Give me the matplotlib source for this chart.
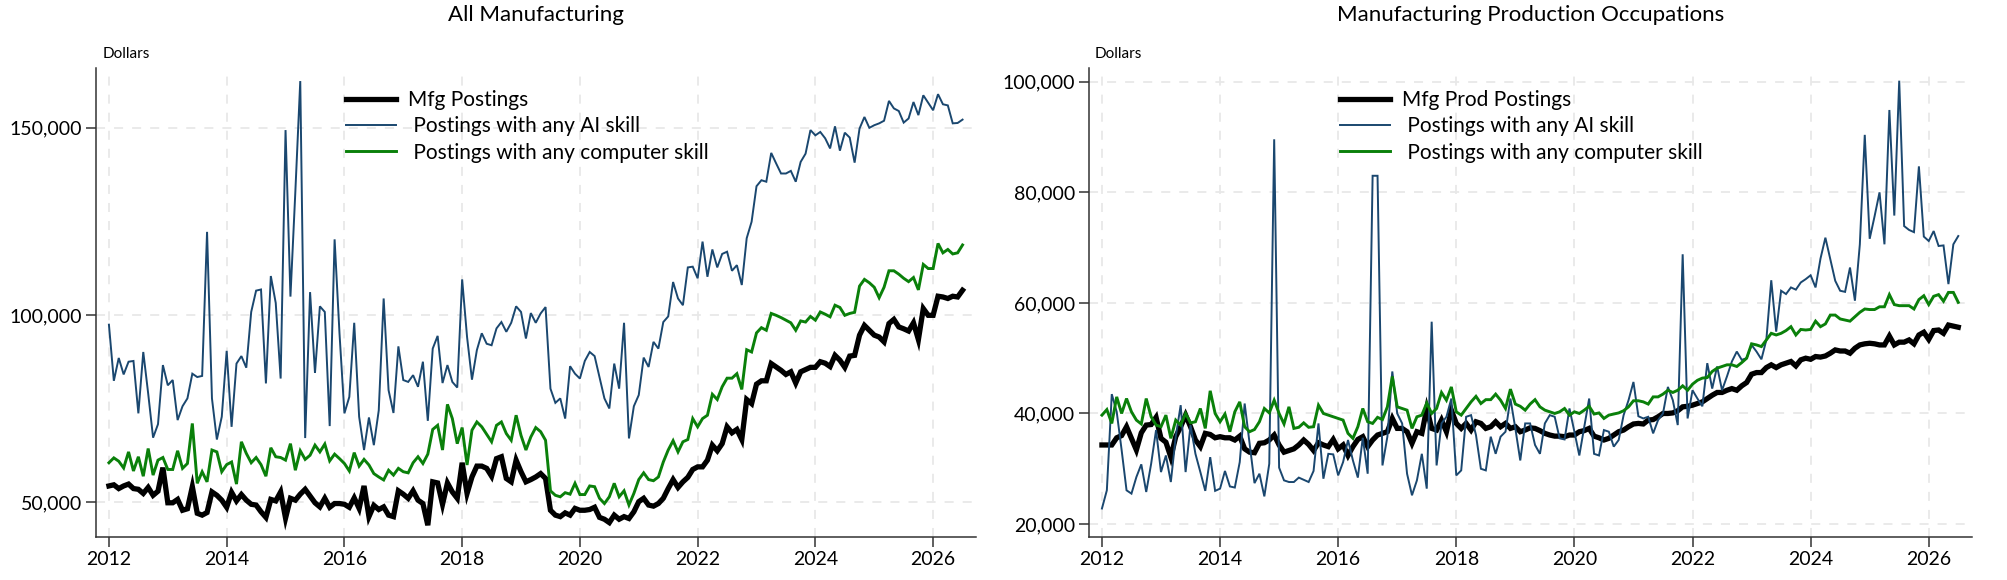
import numpy as np
import matplotlib.pyplot as plt
from matplotlib.ticker import FuncFormatter

plt.rcParams['font.family'] = ['Lato', 'DejaVu Sans']

# monthly data, Jan 2012 .. Jul 2026, thousands of dollars
months = np.arange(175)
years = 2012 + months / 12.0

# All manufacturing
mfg_all = [
    54.3, 54.6, 53.6, 54.3, 54.8, 53.6, 53.4, 52.3, 53.9, 51.8,
    52.9, 59.2, 49.8, 49.8, 50.7, 47.8, 48.2, 54.1, 47.0, 46.5,
    47.2, 52.7, 51.8, 50.5, 48.6, 52.6, 50.3, 52.0, 50.5, 49.4,
    49.2, 47.4, 45.9, 50.7, 50.3, 52.7, 45.7, 51.0, 50.5, 52.1,
    53.4, 51.6, 49.8, 48.7, 51.0, 48.6, 49.6, 49.6, 49.4, 48.6,
    51.1, 48.3, 54.3, 46.1, 49.1, 48.0, 48.7, 46.5, 46.1, 53.0,
    52.1, 51.0, 53.0, 50.5, 49.6, 43.8, 55.4, 55.1, 49.4, 55.1,
    52.7, 51.0, 60.5, 52.3, 56.7, 59.6, 59.6, 59.0, 56.9, 61.6,
    62.1, 56.3, 55.4, 61.2, 58.1, 55.4, 56.0, 56.7, 57.6, 56.3,
    47.8, 46.5, 46.1, 47.1, 46.5, 48.3, 47.8, 47.8, 48.0, 48.6,
    45.9, 45.4, 44.5, 46.5, 45.4, 46.1, 45.6, 47.4, 50.1, 51.0,
    49.2, 48.9, 49.6, 51.0, 53.6, 56.0, 53.9, 55.4, 56.6, 58.7,
    59.4, 59.4, 61.2, 65.2, 63.7, 65.6, 70.1, 68.5, 69.4, 66.7,
    77.4, 76.3, 81.5, 82.4, 82.4, 87.0, 86.1, 85.2, 84.1, 84.8,
    81.8, 84.8, 85.4, 86.0, 86.0, 87.5, 87.1, 86.2, 89.2, 87.9,
    86.0, 89.0, 89.2, 94.6, 97.2, 95.9, 94.6, 94.1, 92.8, 97.7,
    98.8, 96.8, 96.3, 95.7, 97.9, 93.4, 101.7, 99.9, 99.9, 105.0,
    104.8, 104.4, 105.0, 104.8, 106.6]

ai_all = [
    97.4, 82.4, 88.5, 84.1, 87.5, 87.7, 73.7, 90.1, 79.0, 67.2,
    70.8, 86.6, 81.2, 82.6, 71.9, 75.6, 77.7, 84.3, 83.4, 83.7,
    122.2, 77.7, 66.7, 72.8, 90.4, 70.1, 87.0, 89.0, 85.9, 100.8,
    106.5, 106.8, 81.7, 110.4, 103.2, 83.0, 149.4, 104.9, 133.0, 162.5,
    67.1, 106.1, 84.5, 102.3, 100.8, 70.3, 120.2, 95.0, 73.7, 78.1,
    97.9, 72.8, 63.9, 72.6, 65.2, 74.5, 104.4, 79.9, 73.8, 91.6,
    82.6, 82.1, 83.9, 80.8, 87.5, 71.7, 91.0, 94.4, 81.8, 86.6,
    82.1, 80.6, 109.5, 94.1, 82.7, 90.6, 95.1, 92.3, 91.9, 96.4,
    98.1, 95.5, 97.9, 102.3, 100.8, 93.7, 100.5, 97.9, 100.4, 102.1,
    80.3, 76.5, 77.7, 72.3, 86.3, 84.3, 83.0, 87.7, 90.1, 89.0,
    83.4, 77.7, 75.0, 87.0, 80.3, 97.9, 67.0, 75.6, 78.6, 88.6,
    86.1, 92.8, 91.0, 98.1, 99.6, 108.8, 104.4, 102.6, 112.7, 112.9,
    109.8, 119.6, 110.2, 117.5, 112.7, 116.3, 116.9, 111.8, 113.3, 108.0,
    120.5, 124.9, 134.4, 136.0, 135.6, 143.3, 140.5, 137.8, 137.8, 138.5,
    135.6, 140.9, 143.1, 149.4, 148.0, 148.9, 147.2, 144.5, 150.4, 143.9,
    148.7, 147.4, 140.7, 149.8, 152.9, 150.0, 150.7, 151.2, 151.9, 157.2,
    155.2, 154.5, 151.4, 152.5, 156.9, 153.4, 158.7, 156.7, 154.7, 159.0,
    156.3, 156.0, 151.2, 151.3, 152.2]

comp_all = [
    60.5, 61.8, 60.9, 59.1, 63.4, 58.3, 62.1, 56.9, 64.3, 57.2,
    61.2, 61.9, 58.7, 58.7, 63.7, 59.0, 60.3, 71.0, 55.0, 58.1,
    55.4, 63.9, 63.4, 58.1, 60.0, 60.7, 54.8, 66.1, 63.0, 60.5,
    61.9, 60.0, 56.9, 64.5, 62.1, 61.9, 61.2, 65.6, 58.5, 63.7,
    61.4, 62.5, 65.2, 63.4, 65.5, 61.0, 62.8, 61.6, 60.3, 58.3,
    63.2, 59.6, 61.4, 59.9, 57.6, 56.7, 55.9, 58.5, 57.2, 59.0,
    58.1, 57.8, 60.5, 62.1, 60.3, 62.8, 69.4, 70.5, 63.9, 76.1,
    72.3, 65.6, 69.9, 59.9, 69.2, 71.4, 70.1, 68.1, 66.1, 70.5,
    71.4, 68.3, 66.5, 73.2, 67.8, 63.9, 67.4, 69.9, 68.8, 66.5,
    53.0, 51.8, 51.4, 52.5, 52.1, 55.0, 52.0, 52.0, 54.3, 54.1,
    51.0, 49.6, 51.4, 55.0, 51.4, 53.0, 49.2, 52.3, 56.0, 57.8,
    56.0, 55.7, 56.7, 60.7, 63.9, 66.4, 63.4, 66.1, 66.7, 72.3,
    70.1, 72.3, 73.2, 78.8, 77.4, 80.8, 83.1, 83.1, 84.3, 80.1,
    90.7, 90.1, 95.2, 96.6, 95.9, 100.4, 99.9, 99.3, 98.6, 97.9,
    95.9, 98.4, 98.1, 99.6, 98.6, 100.8, 100.2, 99.5, 102.6, 102.0,
    99.9, 100.4, 100.7, 107.7, 109.5, 108.6, 107.4, 104.6, 107.4, 111.8,
    111.8, 110.9, 109.8, 108.9, 110.0, 106.7, 113.5, 112.4, 112.4, 119.1,
    116.6, 117.5, 116.3, 116.6, 118.7]

# Manufacturing production occupations
mfg_prod = [
    34.3, 34.3, 34.3, 35.6, 36.0, 37.6, 35.5, 33.4, 36.5, 37.9,
    38.0, 39.3, 35.5, 34.8, 32.1, 35.8, 37.6, 39.7, 37.6, 35.2,
    34.0, 36.4, 36.2, 35.6, 35.8, 35.6, 35.6, 35.2, 35.9, 33.6,
    33.0, 32.9, 34.6, 34.7, 35.2, 36.1, 34.3, 33.0, 33.3, 33.6,
    34.3, 35.2, 34.4, 33.3, 34.7, 34.3, 34.0, 35.3, 33.6, 34.3,
    32.4, 34.0, 35.3, 35.8, 34.0, 35.2, 36.1, 36.4, 36.7, 39.1,
    37.3, 37.3, 36.7, 34.6, 36.7, 36.4, 40.9, 37.3, 37.0, 38.8,
    36.7, 40.6, 38.2, 37.3, 38.2, 37.0, 38.5, 38.2, 37.3, 37.6,
    38.5, 37.6, 38.2, 37.3, 37.6, 36.7, 37.0, 37.4, 37.3, 36.9,
    36.4, 36.1, 35.9, 35.9, 35.8, 36.1, 36.1, 36.7, 36.9, 37.3,
    35.9, 35.6, 35.2, 35.5, 36.1, 36.7, 37.0, 37.6, 38.1, 38.2,
    38.1, 38.8, 38.9, 39.4, 40.0, 40.0, 40.1, 40.5, 41.2, 41.3,
    41.5, 41.8, 42.1, 42.7, 43.3, 43.8, 43.8, 44.2, 44.5, 44.2,
    45.0, 45.6, 47.1, 47.4, 47.4, 48.3, 48.8, 48.3, 48.8, 49.1,
    49.4, 48.6, 49.7, 50.0, 49.8, 50.3, 50.2, 50.4, 50.9, 51.5,
    51.3, 51.3, 50.9, 51.8, 52.4, 52.6, 52.7, 52.6, 52.4, 52.4,
    54.0, 52.4, 52.9, 52.9, 53.3, 52.6, 54.2, 54.7, 53.4, 55.0,
    55.1, 54.5, 56.0, 55.8, 55.6]

ai_prod = [
    22.8, 26.1, 43.5, 40.3, 33.4, 26.1, 25.5, 28.5, 30.8, 25.8,
    30.9, 37.0, 29.4, 32.4, 27.6, 35.8, 41.5, 29.4, 37.9, 32.7,
    29.4, 26.0, 32.1, 26.0, 26.4, 29.6, 26.8, 26.6, 31.2, 41.8,
    34.6, 27.4, 29.1, 25.0, 30.9, 89.6, 30.2, 27.9, 27.6, 27.6,
    28.4, 28.0, 27.6, 29.6, 38.2, 28.2, 32.7, 32.6, 28.8, 31.2,
    35.2, 31.5, 28.4, 35.6, 29.1, 83.0, 83.0, 30.6, 35.8, 47.6,
    40.0, 38.2, 29.1, 25.2, 27.9, 32.7, 26.4, 56.6, 30.6, 38.2,
    39.4, 42.7, 28.8, 29.7, 39.4, 39.7, 36.1, 30.0, 29.7, 35.8,
    32.7, 35.8, 36.7, 42.7, 37.3, 31.5, 38.2, 38.2, 34.3, 32.7,
    38.2, 39.7, 39.4, 35.5, 35.3, 40.9, 36.7, 32.4, 37.6, 42.7,
    32.7, 32.4, 37.0, 36.7, 34.0, 35.2, 39.7, 42.4, 45.7, 39.5,
    39.1, 39.4, 36.4, 38.8, 40.0, 44.8, 42.4, 37.9, 68.8, 39.1,
    44.2, 42.7, 41.3, 49.1, 44.5, 48.5, 44.2, 46.7, 49.4, 51.2,
    49.7, 50.0, 52.4, 51.2, 49.8, 53.3, 64.1, 54.8, 62.2, 61.6,
    62.8, 62.4, 63.7, 64.3, 65.0, 62.8, 68.0, 71.8, 67.9, 64.0,
    62.2, 62.0, 66.4, 60.4, 70.6, 90.4, 71.6, 75.7, 80.0, 70.6,
    94.9, 75.8, 100.2, 73.9, 73.2, 72.8, 84.7, 72.0, 71.2, 73.0,
    70.3, 70.4, 63.4, 70.6, 72.1]

comp_prod = [
    39.7, 40.7, 38.2, 43.0, 40.0, 42.7, 40.3, 38.8, 38.1, 42.7,
    39.4, 37.9, 37.6, 39.7, 35.5, 38.8, 37.9, 40.0, 38.3, 38.5,
    40.9, 37.3, 44.1, 40.0, 38.5, 39.9, 36.7, 40.3, 42.1, 37.6,
    36.7, 37.1, 38.5, 40.9, 40.1, 42.4, 40.0, 38.1, 41.2, 37.3,
    37.5, 38.3, 37.5, 37.6, 41.5, 40.0, 39.7, 39.4, 39.1, 38.8,
    36.4, 35.5, 37.6, 40.9, 38.5, 38.2, 39.3, 38.9, 41.2, 46.7,
    41.2, 40.9, 40.6, 37.3, 39.4, 39.7, 41.9, 40.0, 40.9, 43.8,
    42.4, 44.8, 40.3, 39.7, 40.9, 42.1, 43.1, 41.8, 42.5, 42.5,
    43.5, 42.4, 40.9, 44.4, 41.7, 41.3, 40.6, 41.7, 42.5, 41.2,
    40.6, 40.3, 40.0, 40.3, 40.9, 39.7, 40.3, 40.0, 40.6, 41.3,
    39.9, 40.1, 39.1, 39.7, 39.9, 40.1, 40.5, 41.2, 42.3, 42.3,
    42.1, 41.7, 43.0, 43.0, 43.5, 44.2, 43.8, 44.2, 45.0, 44.2,
    45.3, 46.0, 46.4, 46.5, 47.6, 48.2, 48.5, 48.8, 48.8, 48.5,
    49.2, 50.0, 52.6, 52.4, 52.1, 53.3, 54.5, 54.2, 54.5, 55.0,
    55.7, 54.2, 55.2, 55.1, 55.2, 56.7, 55.7, 56.2, 57.8, 57.8,
    57.1, 56.9, 56.7, 57.5, 58.3, 58.9, 58.8, 58.8, 59.3, 59.3,
    61.5, 59.7, 59.5, 59.5, 59.5, 58.9, 60.6, 61.3, 59.7, 61.2,
    61.5, 60.3, 61.9, 61.9, 60.1]

x_ticks = [2012, 2014, 2016, 2018, 2020, 2022, 2024, 2026]


def plot_panel(ax, title, series, labels, yticks, ylim):
    colors = ['black', '#1a476f', '#0a800a']
    widths = [3.8, 1.4, 2.1]
    for vals, lab, c, w in zip(series, labels, colors, widths):
        ax.plot(years, np.array(vals) * 1000, color=c, lw=w, label=lab,
                solid_joinstyle='miter')

    ax.set_xlim(2011.78, 2026.73)
    ax.set_ylim(*ylim)
    ax.set_xticks(x_ticks)
    ax.set_yticks(yticks)
    ax.yaxis.set_major_formatter(FuncFormatter(lambda v, p: f'{int(v):,}'))
    ax.grid(True, color='#e8e8e8', linestyle=(0, (5, 5)), linewidth=1.3)
    ax.set_axisbelow(True)
    for s in ['top', 'right']:
        ax.spines[s].set_visible(False)
    for s in ['left', 'bottom']:
        ax.spines[s].set_color('#333333')
        ax.spines[s].set_linewidth(1.1)
    ax.tick_params(labelsize=14, length=7, width=1.1, color='#333333', pad=3)

    ax.set_title(title, fontsize=16, pad=34)
    ax.text(0.007, 1.03, 'Dollars', transform=ax.transAxes, fontsize=11,
            va='center', ha='left')
    ax.legend(loc='upper left', bbox_to_anchor=(0.272, 0.975), frameon=False,
              fontsize=15, handlelength=2.4, handletextpad=0.6,
              labelspacing=0.3, borderpad=0)


fig = plt.figure(figsize=(20.08, 5.8), dpi=100)
ax1 = fig.add_axes([0.0478, 0.0741, 0.4383, 0.8087])
ax2 = fig.add_axes([0.5423, 0.0741, 0.4397, 0.8087])

plot_panel(ax1, 'All Manufacturing', [mfg_all, ai_all, comp_all],
           ['Mfg Postings', ' Postings with any AI skill',
            ' Postings with any computer skill'],
           [50000, 100000, 150000], (40650, 166000))
plot_panel(ax2, 'Manufacturing Production Occupations',
           [mfg_prod, ai_prod, comp_prod],
           ['Mfg Prod Postings', ' Postings with any AI skill',
            ' Postings with any computer skill'],
           [20000, 40000, 60000, 80000, 100000], (17650, 102500))

fig.savefig('out.png', dpi=100)
